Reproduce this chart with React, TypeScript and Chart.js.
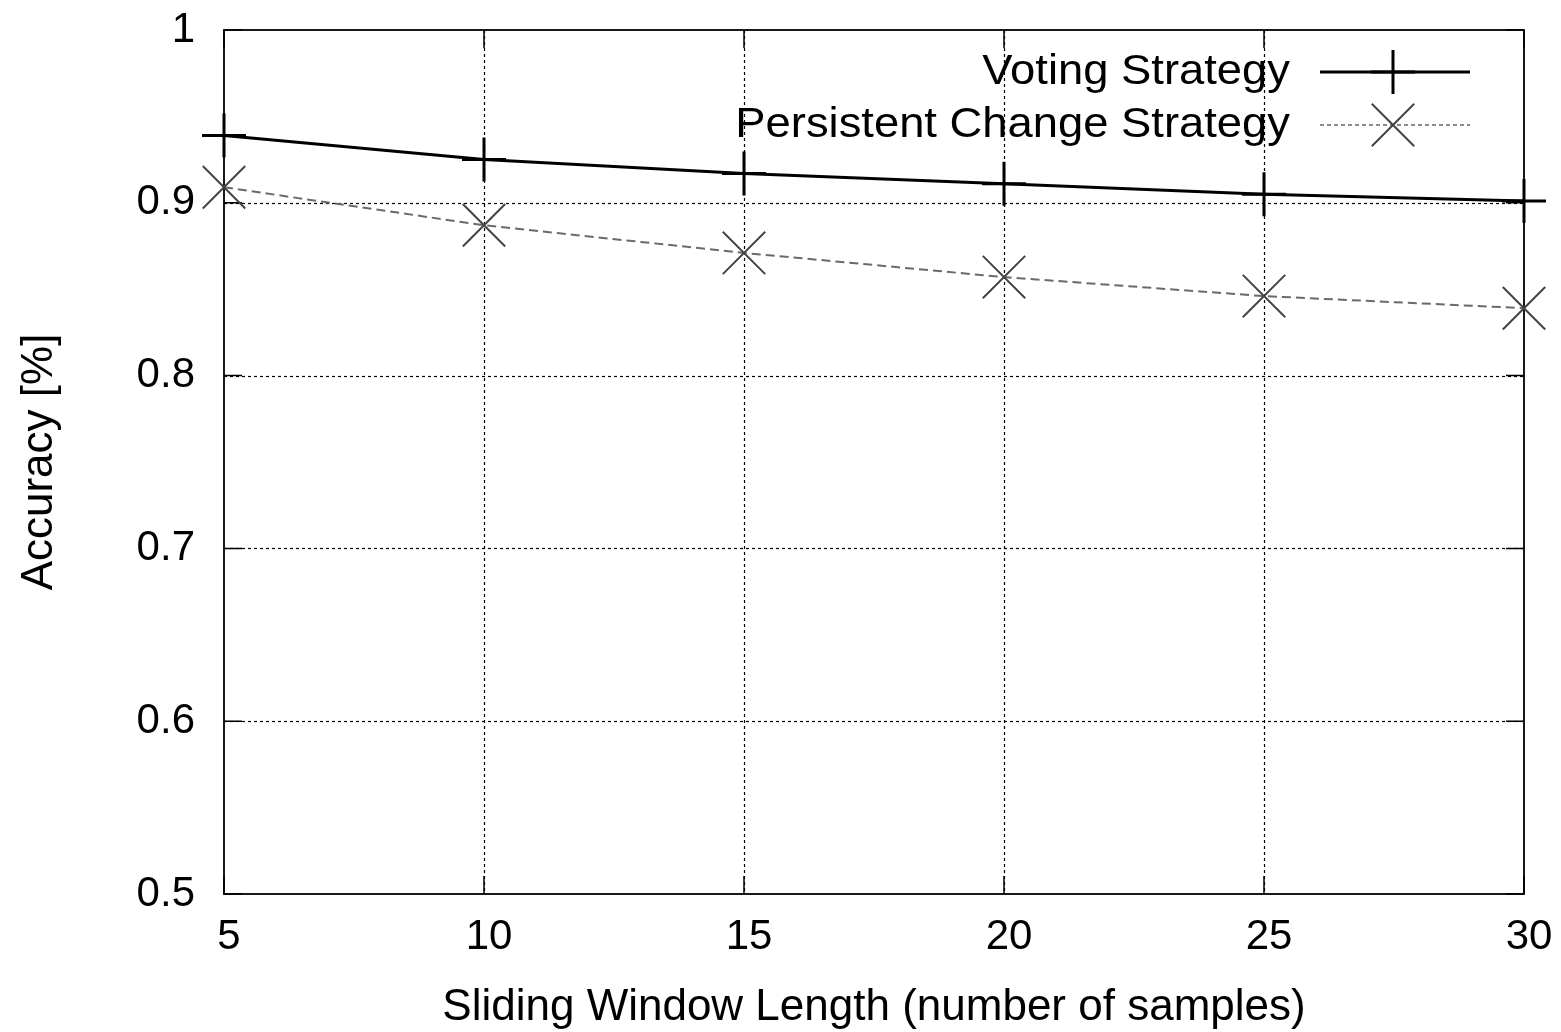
import React, { useEffect, useRef } from 'react';
import { Chart, registerables } from 'chart.js';

Chart.register(...registerables);

// ---- data ----
const windowLengths = [5, 10, 15, 20, 25, 30];
const votingAccuracy = [0.939, 0.925, 0.917, 0.911, 0.905, 0.901];
const persistentAccuracy = [0.909, 0.887, 0.871, 0.857, 0.846, 0.839];
const seriesLabels = ['Voting Strategy', 'Persistent Change Strategy'];
const xTickValues = [5, 10, 15, 20, 25, 30];
const yTickValues = [0.5, 0.6, 0.7, 0.8, 0.9, 1];
const xAxisTitle = 'Sliding Window Length (number of samples)';
const yAxisTitle = 'Accuracy [%]';

const FONT = '"Liberation Sans", Arial, Helvetica, sans-serif';

function drawMarker(ctx: CanvasRenderingContext2D, kind: string, x: number, y: number, r: number) {
  ctx.beginPath();
  if (kind === 'cross') {
    ctx.moveTo(x - r, y);
    ctx.lineTo(x + r, y);
    ctx.moveTo(x, y - r);
    ctx.lineTo(x, y + r);
  } else {
    const d = r * Math.SQRT1_2;
    ctx.moveTo(x - d, y - d);
    ctx.lineTo(x + d, y + d);
    ctx.moveTo(x - d, y + d);
    ctx.lineTo(x + d, y - d);
  }
  ctx.stroke();
}

const framePlugin = {
  id: 'gnuplotFrame',
  beforeDatasetsDraw(chart: any) {
    const { ctx, chartArea } = chart;
    const { left, right, top, bottom } = chartArea;
    const xs = chart.scales.x;
    const ys = chart.scales.y;
    ctx.save();
    // dotted grid
    ctx.strokeStyle = '#000';
    ctx.lineWidth = 1.2;
    ctx.setLineDash([3, 3]);
    xTickValues.forEach((v) => {
      const px = Math.round(xs.getPixelForValue(v)) + 0.5;
      if (v === xs.min || v === xs.max) return;
      ctx.beginPath();
      ctx.moveTo(px, top);
      ctx.lineTo(px, bottom);
      ctx.stroke();
    });
    yTickValues.forEach((v) => {
      const py = Math.round(ys.getPixelForValue(v)) + 0.5;
      if (v === ys.min || v === ys.max) return;
      ctx.beginPath();
      ctx.moveTo(left, py);
      ctx.lineTo(right, py);
      ctx.stroke();
    });
    ctx.setLineDash([]);
    // inward tick marks
    const tl = 18;
    ctx.lineWidth = 1.5;
    xTickValues.forEach((v) => {
      const px = xs.getPixelForValue(v);
      ctx.beginPath();
      ctx.moveTo(px, bottom);
      ctx.lineTo(px, bottom - tl);
      ctx.moveTo(px, top);
      ctx.lineTo(px, top + tl);
      ctx.stroke();
    });
    yTickValues.forEach((v) => {
      const py = ys.getPixelForValue(v);
      ctx.beginPath();
      ctx.moveTo(left, py);
      ctx.lineTo(left + tl, py);
      ctx.moveTo(right, py);
      ctx.lineTo(right - tl, py);
      ctx.stroke();
    });
    // frame
    ctx.lineWidth = 1.8;
    ctx.strokeRect(left, top, right - left, bottom - top);
    ctx.restore();
  },
};

const legendPlugin = {
  id: 'gnuplotLegend',
  afterDatasetsDraw(chart: any) {
    const { ctx, chartArea } = chart;
    const textRight = chartArea.right - 234;
    const lineStart = chartArea.right - 204;
    const lineEnd = chartArea.right - 54;
    const markerX = chartArea.right - 131;
    const rows = [chartArea.top + 42, chartArea.top + 95];
    ctx.save();
    chart.data.datasets.forEach((ds: any, i: number) => {
      const y = rows[i];
      ctx.font = `42px ${FONT}`;
      ctx.fillStyle = '#000';
      ctx.textAlign = 'right';
      ctx.textBaseline = 'middle';
      ctx.save();
      ctx.translate(textRight, y);
      ctx.scale(1.08, 1);
      ctx.fillText(ds.label, 0, 0);
      ctx.restore();
      // sample line
      ctx.strokeStyle = i === 0 ? '#000' : '#666';
      ctx.lineWidth = i === 0 ? 3 : 1.5;
      ctx.setLineDash(i === 0 ? [] : [4, 3]);
      ctx.beginPath();
      ctx.moveTo(lineStart, y);
      ctx.lineTo(lineEnd, y);
      ctx.stroke();
      ctx.setLineDash([]);
      ctx.strokeStyle = ds.pointBorderColor;
      ctx.lineWidth = ds.pointBorderWidth;
      drawMarker(ctx, ds.pointStyle, markerX, y, i === 0 ? 22 : 30);
    });
    ctx.restore();
  },
};

function zeroPadding(scale: any) {
  scale.paddingTop = 0;
  scale.paddingBottom = 0;
  scale.paddingLeft = 0;
  scale.paddingRight = 0;
}

export default function App() {
  const canvasRef = useRef<HTMLCanvasElement | null>(null);

  useEffect(() => {
    document.body.style.margin = '0';
    const canvas = canvasRef.current;
    if (!canvas) return;
    const chart = new Chart(canvas, {
      type: 'line',
      data: {
        datasets: [
          {
            label: seriesLabels[0],
            data: windowLengths.map((x, i) => ({ x, y: votingAccuracy[i] })),
            borderColor: '#000',
            borderWidth: 3,
            pointStyle: 'cross',
            pointRadius: 22,
            pointHoverRadius: 22,
            pointBorderWidth: 3,
            pointBorderColor: '#000',
            pointBackgroundColor: '#000',
            tension: 0,
            fill: false,
            clip: false,
          } as any,
          {
            label: seriesLabels[1],
            data: windowLengths.map((x, i) => ({ x, y: persistentAccuracy[i] })),
            borderColor: '#6a6a6a',
            borderWidth: 2,
            borderDash: [9, 5],
            pointStyle: 'crossRot',
            pointRadius: 30,
            pointHoverRadius: 30,
            pointBorderWidth: 2,
            pointBorderColor: '#444',
            pointBackgroundColor: '#444',
            tension: 0,
            fill: false,
            clip: false,
          } as any,
        ],
      },
      options: {
        responsive: false,
        animation: false,
        events: [],
        layout: { padding: { top: 30, right: 37, left: 0, bottom: 0 }, autoPadding: false },
        plugins: {
          legend: { display: false },
          tooltip: { enabled: false },
        },
        scales: {
          x: {
            type: 'linear',
            min: 5,
            max: 30,
            afterFit: (scale: any) => {
              scale.height = 138;
              zeroPadding(scale);
            },
            afterBuildTicks: (scale: any) => {
              scale.ticks = xTickValues.map((v) => ({ value: v }));
            },
            grid: { display: false, drawTicks: false },
            border: { display: false },
            ticks: {
              color: '#000',
              font: { family: FONT, size: 42 },
              padding: 18,
              labelOffset: 5,
              maxRotation: 0,
              autoSkip: false,
            },
            title: {
              display: true,
              text: xAxisTitle,
              color: '#000',
              font: { family: FONT, size: 44, lineHeight: 1 },
              padding: { top: 0, bottom: 2 },
            },
          },
          y: {
            type: 'linear',
            min: 0.5,
            max: 1,
            afterFit: (scale: any) => {
              scale.width = 224;
              zeroPadding(scale);
            },
            afterBuildTicks: (scale: any) => {
              scale.ticks = yTickValues.map((v) => ({ value: v }));
            },
            grid: { display: false, drawTicks: false },
            border: { display: false },
            ticks: {
              color: '#000',
              font: { family: FONT, size: 42 },
              padding: 29,
              autoSkip: false,
              callback: (v: any) => String(Math.round(Number(v) * 10) / 10),
            },
            title: {
              display: true,
              text: yAxisTitle,
              color: '#000',
              font: { family: FONT, size: 44, lineHeight: 1 },
              padding: { top: 18, bottom: 0 },
            },
          },
        },
      } as any,
      plugins: [framePlugin, legendPlugin],
    });
    return () => chart.destroy();
  }, []);

  return (
    <div style={{ width: 1561, height: 1032, overflow: 'hidden' }}>
      <canvas ref={canvasRef} width={1561} height={1032} style={{ display: 'block' }} />
    </div>
  );
}
